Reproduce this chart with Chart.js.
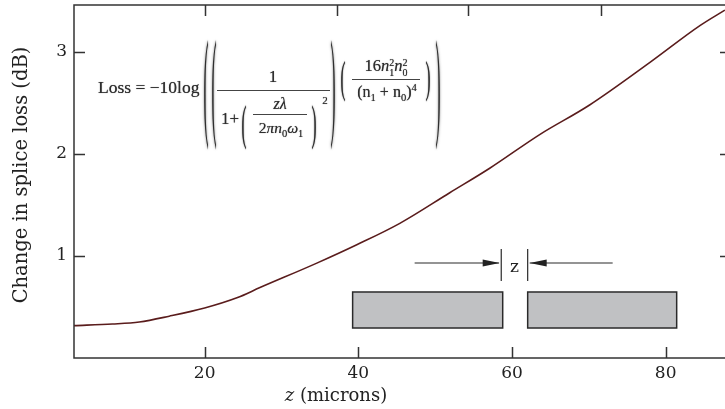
<!DOCTYPE html>
<html>
<head>
<meta charset="utf-8">
<script src="https://cdn.jsdelivr.net/npm/chart.js@4.4.0/dist/chart.umd.min.js"></script>
<style>
  html, body { margin: 0; padding: 0; background: #fff; overflow: hidden; width: 725px; height: 409px; }
  #wrap { position: relative; width: 735px; height: 409px; }
  canvas { display: block; }
  .eq { position: absolute; left: 0; top: 0; font-family: "Liberation Serif", serif; color: #2e2e2e; font-size: 16px; text-shadow: 0 0 0.8px #555; }
  .eq span.p { position: absolute; white-space: nowrap; line-height: 1; transform: translate(-50%, -50%); }
  .eq .bar { position: absolute; height: 1.3px; background: #444; }
  .eq .ss { display: inline-flex; flex-direction: column; font-size: 10px; line-height: 0.95; vertical-align: middle; }
  .eq sub, .eq sup { font-size: 10.5px; line-height: 0; }
</style>
</head>
<body>
<div id="wrap">
  <canvas id="chart" width="735" height="409"></canvas>
  <div class="eq">
    <span class="p" style="left:98px;top:88px;transform:translate(0,-50%);font-size:17.5px;">Loss = &minus;10log</span>
    <span class="p" style="left:206px;top:88px;transform:translate(-50%,-50%) scaleY(8);font-size:15px;">(</span>
    <span class="p" style="left:214px;top:88px;transform:translate(-50%,-50%) scaleY(8);font-size:15px;">(</span>
    <span class="p" style="left:273px;top:76px;font-size:17px;">1</span>
    <div class="bar" style="left:217px;top:90px;width:113px;"></div>
    <span class="p" style="left:230px;top:118px;font-size:17px;">1+</span>
    <span class="p" style="left:244px;top:125px;transform:translate(-50%,-50%) scaleY(3.2);font-size:15px;">(</span>
    <span class="p" style="left:280px;top:104px;font-size:16px;"><i>z&lambda;</i></span>
    <div class="bar" style="left:253px;top:114px;width:54px;"></div>
    <span class="p" style="left:281px;top:128px;font-size:15.5px;">2<i>&pi;n</i><sub>0</sub><i>&omega;</i><sub>1</sub></span>
    <span class="p" style="left:314px;top:125px;transform:translate(-50%,-50%) scaleY(3.2);font-size:15px;">)</span>
    <span class="p" style="left:325px;top:100px;font-size:11px;">2</span>
    <span class="p" style="left:333px;top:88px;transform:translate(-50%,-50%) scaleY(8);font-size:15px;">)</span>
    <span class="p" style="left:343px;top:78px;transform:translate(-50%,-50%) scaleY(3);font-size:15px;">(</span>
    <span class="p" style="left:386px;top:67px;font-size:16.5px;">16<i>n</i><span class="ss"><span>2</span><span>1</span></span><i>n</i><span class="ss"><span>2</span><span>0</span></span></span>
    <div class="bar" style="left:352px;top:79px;width:68px;"></div>
    <span class="p" style="left:387px;top:92px;font-size:16px;">(n<sub>1</sub> + n<sub>0</sub>)<sup>4</sup></span>
    <span class="p" style="left:428px;top:78px;transform:translate(-50%,-50%) scaleY(3);font-size:15px;">)</span>
    <span class="p" style="left:438px;top:88px;transform:translate(-50%,-50%) scaleY(8);font-size:15px;">)</span>
  </div>
</div>
<script>
// gap z (microns) vs change in splice loss (dB)
const zValues = [3, 8, 11.5, 15.4, 20, 24.2, 27.2, 34.6, 39.8, 45.4, 51.9, 57.1, 63.6, 70.1, 78, 84.5, 87.7];
const lossValues = [0.317, 0.333, 0.353, 0.41, 0.49, 0.59, 0.69, 0.93, 1.11, 1.32, 1.62, 1.86, 2.19, 2.48, 2.90, 3.26, 3.41];
const xTickValues = [20, 40, 60, 80];
const yTickValues = [1, 2, 3];
const topTickValues = [20, 37.2, 54.25, 71.55];

const AXIS = '#333';
const TEXT = '#222';
const SERIF = '"DejaVu Serif", serif';

// box round the plot, with the ticks pointing inwards
const frame = {
  id: 'frame',
  afterDatasetsDraw(chart) {
    const { ctx, chartArea: a, scales: { x, y } } = chart;
    const len = 11;
    ctx.save();
    ctx.strokeStyle = AXIS;
    ctx.lineWidth = 1.5;
    ctx.strokeRect(a.left, a.top, a.right - a.left, a.bottom - a.top);
    ctx.beginPath();
    xTickValues.forEach(v => {
      const px = Math.round(x.getPixelForValue(v)) + 0.5;
      ctx.moveTo(px, a.bottom); ctx.lineTo(px, a.bottom - len);
    });
    topTickValues.forEach(v => {
      const px = Math.round(x.getPixelForValue(v)) + 0.5;
      ctx.moveTo(px, a.top); ctx.lineTo(px, a.top + len);
    });
    yTickValues.forEach(v => {
      const py = Math.round(y.getPixelForValue(v)) + 0.5;
      ctx.moveTo(a.left, py); ctx.lineTo(a.left + len, py);
      ctx.moveTo(a.right, py); ctx.lineTo(a.right - len, py);
    });
    ctx.stroke();
    ctx.restore();
  }
};

// little sketch of the two fibre ends with the gap z
const inset = {
  id: 'inset',
  afterDatasetsDraw(chart) {
    const { ctx, scales: { x, y } } = chart;
    const X = v => x.getPixelForValue(v);
    const Y = v => y.getPixelForValue(v);
    ctx.save();
    ctx.fillStyle = '#c0c1c3';
    ctx.strokeStyle = '#2a2a2a';
    ctx.lineWidth = 1.5;
    [[39.26, 58.79], [62.04, 81.43]].forEach(([x0, x1]) => {
      ctx.fillRect(X(x0), Y(0.647), X(x1) - X(x0), Y(0.294) - Y(0.647));
      ctx.strokeRect(X(x0), Y(0.647), X(x1) - X(x0), Y(0.294) - Y(0.647));
    });
    ctx.lineWidth = 1.2;
    ctx.beginPath();
    [58.6, 62.04].forEach(v => {
      ctx.moveTo(X(v), Y(1.069)); ctx.lineTo(X(v), Y(0.755));
    });
    const ay = Y(0.931);
    ctx.moveTo(X(47.33), ay); ctx.lineTo(X(58.3), ay);
    ctx.moveTo(X(73.1), ay); ctx.lineTo(X(62.3), ay);
    ctx.stroke();
    ctx.fillStyle = '#222';
    const head = (tip, dir) => {
      ctx.beginPath();
      ctx.moveTo(tip, ay);
      ctx.lineTo(tip - dir * 17, ay - 3.5);
      ctx.lineTo(tip - dir * 17, ay + 3.5);
      ctx.closePath();
      ctx.fill();
    };
    head(X(58.4), 1);
    head(X(62.3), -1);
    ctx.font = '17px ' + SERIF;
    ctx.textAlign = 'center';
    ctx.textBaseline = 'middle';
    ctx.fillText('z', (X(58.6) + X(62.04)) / 2, Y(0.89));
    ctx.restore();
  }
};

// axis titles drawn by hand: italic z on x, and the y one sits a bit above centre
const titles = {
  id: 'titles',
  afterDraw(chart) {
    const { ctx } = chart;
    ctx.save();
    ctx.fillStyle = TEXT;
    ctx.textBaseline = 'middle';
    const italic = 'italic 18px ' + SERIF;
    const plain = '18px ' + SERIF;
    ctx.font = italic;
    const w1 = ctx.measureText('z').width;
    ctx.font = plain;
    const w2 = ctx.measureText(' (microns)').width;
    const left = 336 - (w1 + w2) / 2;
    ctx.font = italic;
    ctx.fillText('z', left, 396);
    ctx.font = plain;
    ctx.fillText(' (microns)', left + w1, 396);

    ctx.translate(22, 175);
    ctx.rotate(-Math.PI / 2);
    ctx.textAlign = 'center';
    ctx.font = '19.5px ' + SERIF;
    ctx.fillText('Change in splice loss (dB)', 0, 0);
    ctx.restore();
  }
};

new Chart(document.getElementById('chart'), {
  type: 'line',
  data: {
    datasets: [{
      data: zValues.map((z, i) => ({ x: z, y: lossValues[i] })),
      borderColor: '#5a1c1c',
      borderWidth: 1.6,
      pointRadius: 0,
      cubicInterpolationMode: 'monotone',
      fill: false
    }]
  },
  options: {
    responsive: false,
    animation: false,
    devicePixelRatio: 1,
    layout: { padding: { top: 5, right: 4, left: 0, bottom: 0 } },
    plugins: { legend: { display: false }, tooltip: { enabled: false } },
    scales: {
      x: {
        type: 'linear',
        min: 3,
        max: 88.5,
        afterBuildTicks: s => { s.ticks = xTickValues.map(v => ({ value: v })); },
        afterFit: s => { s.height = 51; s.paddingLeft = 0; s.paddingRight = 0; },
        grid: { display: false, drawTicks: false },
        border: { display: false },
        ticks: { font: { family: SERIF, size: 17 }, color: TEXT, padding: 5, maxRotation: 0 }
      },
      y: {
        min: 0,
        max: 3.46,
        afterBuildTicks: s => { s.ticks = yTickValues.map(v => ({ value: v })); },
        afterFit: s => { s.width = 74; s.paddingTop = 0; s.paddingBottom = 0; },
        grid: { display: false, drawTicks: false },
        border: { display: false },
        ticks: { font: { family: SERIF, size: 17 }, color: TEXT, padding: 7 }
      }
    }
  },
  plugins: [frame, inset, titles]
});
</script>
</body>
</html>
